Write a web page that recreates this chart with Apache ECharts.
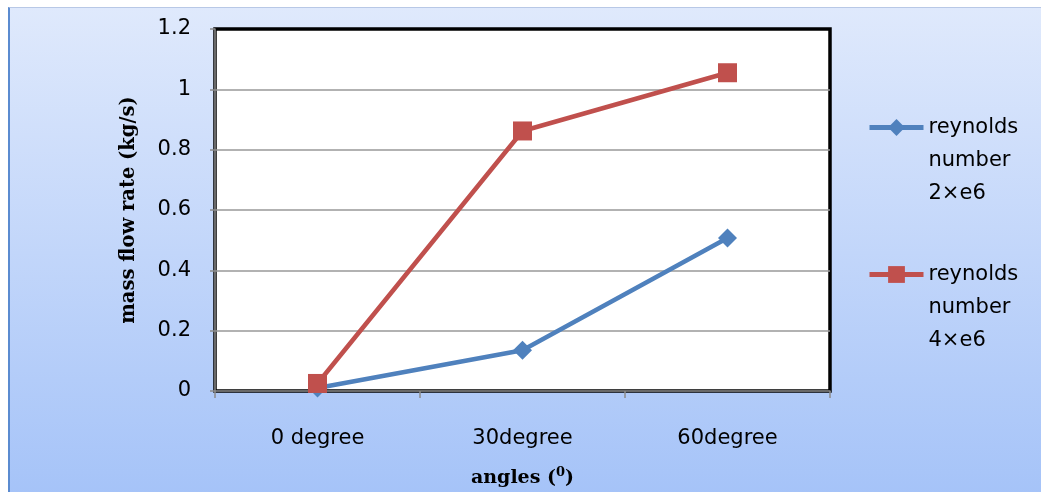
<!DOCTYPE html>
<html>
<head>
<meta charset="utf-8">
<script src="https://cdn.jsdelivr.net/npm/echarts@6/dist/echarts.min.js"></script>
<style>
  html, body { margin: 0; padding: 0; background: #ffffff; }
  #bg { position: absolute; left: 8px; top: 7px; width: 1040px; height: 490px;
        border-left: 2px solid #5b8bd0; border-top: 1px solid #b8c8e6;
        background: linear-gradient(#dfe9fc, #a5c3f8); box-sizing: border-box; }
  #chart { position: absolute; left: 0; top: 0; width: 1041px; height: 492px; }
</style>
</head>
<body>
<div id="bg"></div>
<div id="chart"></div>
<script>
const categories = ['0 degree', '30degree', '60degree'];
const seriesNames = ['reynolds\nnumber\n2×e6', 'reynolds\nnumber\n4×e6'];
const re2e6 = [0.01, 0.135, 0.507];
const re4e6 = [0.025, 0.862, 1.055];
const yTicks = { min: 0, max: 1.2, interval: 0.2 };
const xTitle = 'angles ({sup|0})';
const yTitle = 'mass flow rate (kg/s)';

const chart = echarts.init(document.getElementById('chart'), null, { renderer: 'canvas' });
const sans = 'DejaVu Sans';
const serif = 'DejaVu Serif';

function legendFmt(name) { return '\n\n' + name; }

const legendBase = {
  orient: 'vertical', left: 862,
  itemWidth: 54, itemHeight: 21, itemGap: 5,
  formatter: legendFmt,
  lineStyle: { width: 5 },
  textStyle: { fontFamily: sans, fontSize: 21, color: '#000', lineHeight: 33 }
};

chart.setOption({
  backgroundColor: 'transparent',
  animation: false,
  grid: {
    left: 215, right: 211, top: 29, bottom: 101,
    outerBoundsMode: 'none', containLabel: false,
    show: true, backgroundColor: '#ffffff', borderColor: '#000000', borderWidth: 3.5
  },
  legend: [
    Object.assign({}, legendBase, { data: [seriesNames[0]], top: 40 }),
    Object.assign({}, legendBase, { data: [seriesNames[1]], top: 187 })
  ],
  xAxis: {
    type: 'category', data: categories, boundaryGap: true,
    axisLine: { show: true, lineStyle: { color: '#8c8c8c', width: 1.5 } },
    axisTick: { show: true, length: 7, lineStyle: { color: '#8c8c8c', width: 1.5 } },
    axisLabel: { fontFamily: sans, fontSize: 21, color: '#000', margin: 37 },
    name: xTitle, nameLocation: 'middle', nameGap: 75,
    nameTextStyle: {
      fontFamily: serif, fontSize: 19, fontWeight: 'bold', color: '#000',
      rich: {
        sup: { fontFamily: serif, fontSize: 13, fontWeight: 'bold', color: '#000',
               verticalAlign: 'top', lineHeight: 24 }
      }
    }
  },
  yAxis: {
    type: 'value', min: yTicks.min, max: yTicks.max, interval: yTicks.interval,
    axisLine: { show: true, lineStyle: { color: '#8c8c8c', width: 1.5 } },
    axisTick: { show: true, length: 5, lineStyle: { color: '#8c8c8c', width: 1.5 } },
    axisLabel: { fontFamily: sans, fontSize: 21, color: '#000', margin: 24 },
    splitLine: { show: true, showMinLine: false, showMaxLine: false,
                 lineStyle: { color: '#999999', width: 1.5 } },
    name: yTitle, nameLocation: 'middle', nameGap: 76,
    nameTextStyle: { fontFamily: serif, fontSize: 19.5, fontWeight: 'bold', color: '#000' }
  },
  series: [
    {
      name: seriesNames[0], type: 'line', data: re2e6,
      symbol: 'diamond', symbolSize: 19,
      lineStyle: { color: '#4f81bd', width: 4.5 },
      itemStyle: { color: '#4f81bd' }, z: 2
    },
    {
      name: seriesNames[1], type: 'line', data: re4e6,
      symbol: 'rect', symbolSize: 19,
      lineStyle: { color: '#c0504d', width: 4.5 },
      itemStyle: { color: '#c0504d' }, z: 3
    }
  ]
});
</script>
</body>
</html>
